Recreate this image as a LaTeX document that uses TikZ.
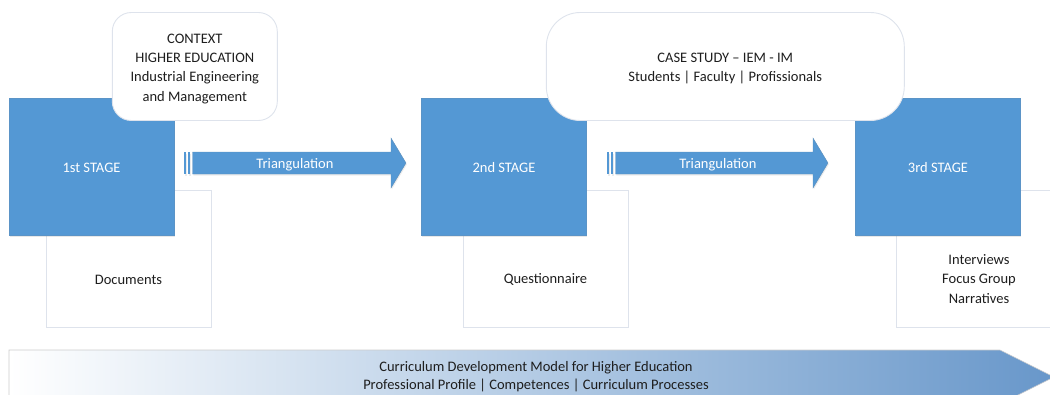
\documentclass[tikz,border=0pt]{standalone}
\usepackage{fontspec}
\setmainfont{Carlito}
\usetikzlibrary{shadows}
\definecolor{stageblue}{RGB}{84,152,212}
\definecolor{edgegray}{RGB}{222,227,236}
\definecolor{bartip}{RGB}{104,151,202}
\definecolor{txt}{RGB}{30,30,30}
\tikzset{
  every node/.style={font=\fontsize{14.5}{19.3}\selectfont, text=txt, align=center, inner sep=0pt},
  stagebox/.style={fill=stageblue, draw=stageblue!85!gray, line width=0.6pt, minimum width=165pt, minimum height=137pt, text=white,
    drop shadow={opacity=0.18, shadow xshift=0.8pt, shadow yshift=-1.8pt}},
  infobox/.style={fill=white, draw=edgegray, line width=0.7pt, minimum width=165pt, minimum height=137pt},
  callout/.style={fill=white, draw=edgegray, line width=0.9pt},
  arrowbody/.style={fill=stageblue, draw=stageblue!70!gray, line width=0.4pt,
    drop shadow={opacity=0.15, shadow xshift=0.8pt, shadow yshift=-1.5pt}},
  stripe/.style={fill=stageblue, drop shadow={opacity=0.15, shadow xshift=0.6pt, shadow yshift=-1.5pt}},
  arrowtext/.style={text=white},
}
\begin{document}
\begin{tikzpicture}[x=1pt,y=-1pt]
\useasboundingbox (0,0) rectangle (1050,394);
\clip (0,0) rectangle (1050,394);
% info boxes behind stages
\node[infobox] (doc1) at (128.5,258.5) {};
\node[infobox] (doc2) at (545.5,258.5) {};
\node[infobox] (doc3) at (978.5,258.5) {};
\node (doc1t) at (128.5,279.5) {Documents};
\node (doc2t) at (545.5,279.5) {Questionnaire};
\node (doc3t) at (979,279) {Interviews\\Focus Group\\Narratives};
% stages
\node[stagebox] (s1) at (91.5,166.5) {};
\node[stagebox] (s2) at (504,166.5) {};
\node[stagebox] (s3) at (938,166.5) {};
\node[text=white] (s1t) at (91.5,167.5) {1st STAGE};
\node[text=white] (s2t) at (504,167.5) {2nd STAGE};
\node[text=white] (s3t) at (938,167.5) {3rd STAGE};
% callouts
\node[callout, rounded corners=19pt, minimum width=165pt, minimum height=108pt] (ctx) at (194.8,66.5) {};
\node (ctxt) at (194.8,68.8) {CONTEXT\\HIGHER EDUCATION\\Industrial Engineering\\and Management};
\node[callout, rounded corners=34pt, minimum width=358pt, minimum height=108pt] (case) at (725.3,66.5) {};
\node (caset) at (725.3,68.5) {CASE STUDY – IEM - IM\\Students | Faculty | Profissionals};
% triangulation arrows
\path[stripe] (184,152) rectangle (186.2,174);
\path[stripe] (188.2,152) rectangle (190.4,174);
\path[arrowbody] (192.5,152) -- (391,152) -- (391,138) -- (406,163) -- (391,188) -- (391,174) -- (192.5,174) -- cycle;
\node[arrowtext] (tri1) at (295,164.5) {Triangulation};
\path[stripe] (607,152) rectangle (609.2,174);
\path[stripe] (611.2,152) rectangle (613.4,174);
\path[arrowbody] (615.5,152) -- (813,152) -- (813,138) -- (828,163) -- (813,188) -- (813,174) -- (615.5,174) -- cycle;
\node[arrowtext] (tri2) at (718,164.5) {Triangulation};
% bottom bar
\path[left color=white, right color=bartip, draw=gray!40, line width=0.6pt]
  (9,404) -- (9,350) -- (1000,350) -- (1054,377) -- (1000,404) -- cycle;
\node[font=\fontsize{14.5}{18}\selectfont] (model) at (536,377)
  {Curriculum Development Model for Higher Education\\Professional Profile | Competences | Curriculum Processes};
\end{tikzpicture}
\end{document}
